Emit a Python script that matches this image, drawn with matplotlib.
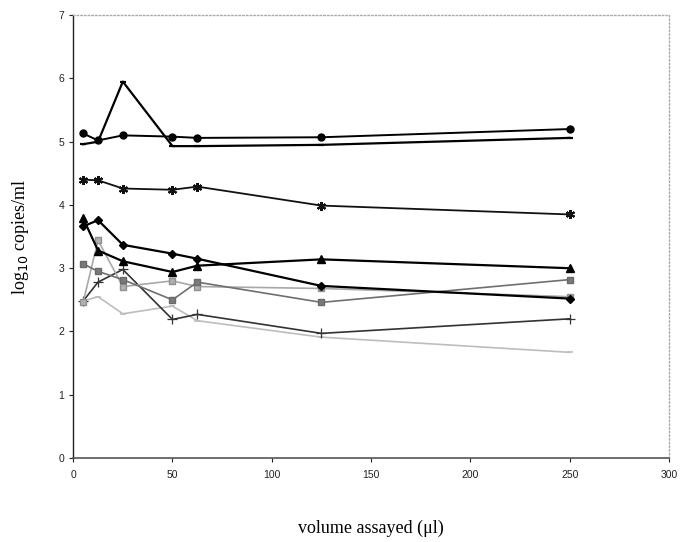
import matplotlib
matplotlib.use('Agg')
import matplotlib.pyplot as plt

volume = [5, 12.5, 25, 50, 62.5, 125, 250]

circles = [5.13, 5.02, 5.10, 5.08, 5.06, 5.07, 5.20]
dashes = [4.96, 5.00, 5.95, 4.93, 4.93, 4.95, 5.06]
stars = [4.40, 4.39, 4.26, 4.24, 4.29, 3.99, 3.85]
diamonds = [3.66, 3.76, 3.37, 3.23, 3.15, 2.72, 2.52]
triangles = [3.79, 3.28, 3.11, 2.94, 3.04, 3.14, 3.00]
squares_dark = [3.07, 2.95, 2.82, 2.50, 2.78, 2.46, 2.82]
squares_light = [2.46, 3.44, 2.71, 2.80, 2.71, 2.68, 2.55]
pluses = [2.48, 2.78, 2.98, 2.19, 2.27, 1.97, 2.20]
light_line = [2.48, 2.55, 2.28, 2.40, 2.17, 1.91, 1.67]

fig = plt.figure(figsize=(6.84, 5.42), dpi=100)
ax = fig.add_axes([0.107, 0.155, 0.871, 0.817])

ax.plot(volume, light_line, color='#bdbdbd', lw=1.2, marker='_', ms=5, mew=1.2)
ax.plot(volume, pluses, color='#333333', lw=1.2, marker='+', ms=7, mew=0.9)
ax.plot(volume, squares_light, color='#a8a8a8', lw=1.2, marker='s', ms=5,
        mfc='#b0b0b0', mec='#909090')
ax.plot(volume, squares_dark, color='#6f6f6f', lw=1.2, marker='s', ms=4.5,
        mfc='#7a7a7a', mec='#6a6a6a')
ax.plot(volume, triangles, color='black', lw=1.6, marker='^', ms=6)
ax.plot(volume, diamonds, color='black', lw=1.6, marker='D', ms=4.2)
ax.plot(volume, stars, color='#111111', lw=1.3, marker=(6, 2, 0), ms=6.5, mew=1.5)
ax.plot(volume, dashes, color='black', lw=1.6, marker='_', ms=5, mew=1.6)
ax.plot(volume, circles, color='black', lw=1.4, marker='o', ms=5)

ax.set_xlim(0, 300)
ax.set_ylim(0, 7)
ax.set_xticks(range(0, 301, 50))
ax.set_yticks(range(0, 8))

for side in ('top', 'right'):
    ax.spines[side].set_color('#aaaaaa')
    ax.spines[side].set_linestyle(':')
    ax.spines[side].set_linewidth(1.0)
ax.spines['left'].set_color('#222222')
ax.spines['left'].set_linewidth(1.0)
ax.spines['bottom'].set_color('#555555')
ax.spines['bottom'].set_linewidth(1.2)

ax.tick_params(axis='both', direction='out', length=3, width=0.8,
               labelsize=7.5, colors='#222222', labelfontfamily='Liberation Sans')
ax.tick_params(axis='x', pad=6)

ax.set_xlabel('volume assayed (\u03bcl)', family='Liberation Serif', fontsize=13,
              labelpad=28)
ax.set_ylabel('log$_{10}$ copies/ml', family='Liberation Serif', fontsize=13,
              labelpad=20)

fig.savefig('out.png', dpi=100)
